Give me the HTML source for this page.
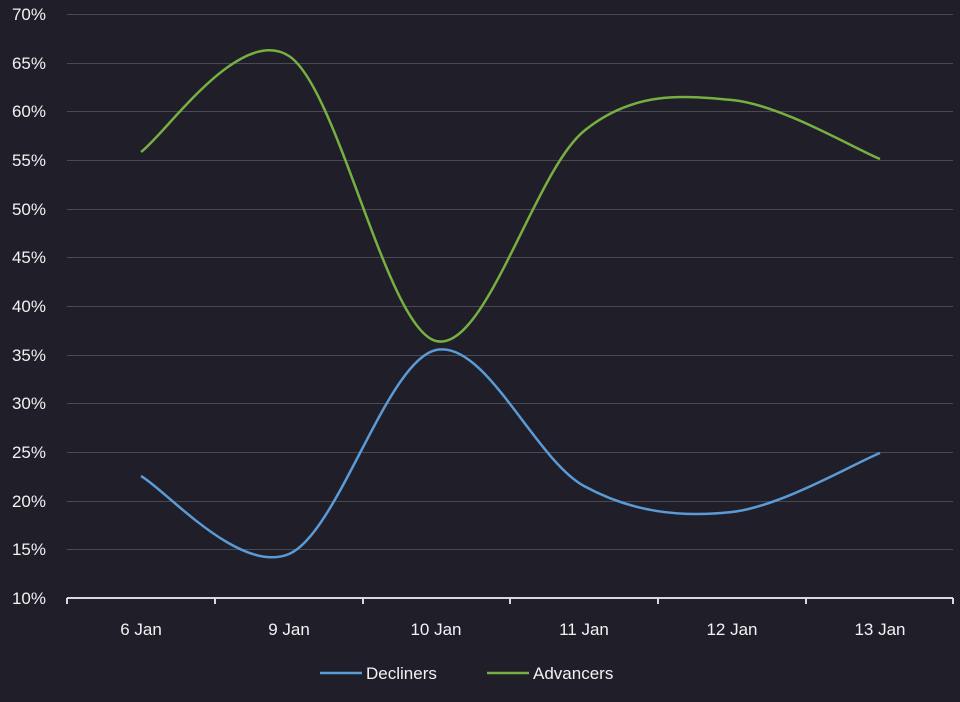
<!DOCTYPE html>
<html><head><meta charset="utf-8"><style>
html,body{margin:0;padding:0;background:#1f1e29;}
svg{display:block;}
text{font-family:"Liberation Sans",sans-serif;fill:#f2f2f2;font-size:17px;}
</style></head><body>
<svg width="960" height="702" viewBox="0 0 960 702">
<rect width="960" height="702" fill="#1f1e29"/>
<g stroke="#4a4a52" stroke-width="1">
<line x1="67" x2="953" y1="14.5" y2="14.5"/><line x1="67" x2="953" y1="63.5" y2="63.5"/>
<line x1="67" x2="953" y1="111.5" y2="111.5"/><line x1="67" x2="953" y1="160.5" y2="160.5"/>
<line x1="67" x2="953" y1="209.5" y2="209.5"/><line x1="67" x2="953" y1="257.5" y2="257.5"/>
<line x1="67" x2="953" y1="306.5" y2="306.5"/><line x1="67" x2="953" y1="355.5" y2="355.5"/>
<line x1="67" x2="953" y1="403.5" y2="403.5"/><line x1="67" x2="953" y1="452.5" y2="452.5"/>
<line x1="67" x2="953" y1="501.5" y2="501.5"/><line x1="67" x2="953" y1="549.5" y2="549.5"/>
</g>
<g stroke="#d9d9d9" stroke-width="2">
<line x1="67" x2="953" y1="598" y2="598"/>
<line x1="67" x2="67" y1="598" y2="604"/><line x1="215" x2="215" y1="598" y2="604"/>
<line x1="363" x2="363" y1="598" y2="604"/><line x1="510" x2="510" y1="598" y2="604"/>
<line x1="658" x2="658" y1="598" y2="604"/><line x1="806" x2="806" y1="598" y2="604"/>
<line x1="953" x2="953" y1="598" y2="604"/>
</g>
<g text-anchor="end">
<text x="46" y="20">70%</text><text x="46" y="69">65%</text><text x="46" y="117">60%</text>
<text x="46" y="166">55%</text><text x="46" y="215">50%</text><text x="46" y="263">45%</text>
<text x="46" y="312">40%</text><text x="46" y="361">35%</text><text x="46" y="409">30%</text>
<text x="46" y="458">25%</text><text x="46" y="507">20%</text><text x="46" y="555">15%</text>
<text x="46" y="604">10%</text>
</g>
<g text-anchor="middle">
<text x="141" y="635">6 Jan</text><text x="289" y="635">9 Jan</text><text x="436" y="635">10 Jan</text>
<text x="584" y="635">11 Jan</text><text x="732" y="635">12 Jan</text><text x="880" y="635">13 Jan</text>
</g>
<path fill="none" stroke="#76b041" stroke-width="2.5" d="M141,152 C165.7,134 239.8,24 289,56 C338.2,88 386.8,328.8 436,341 C485.2,353.2 534.7,171.2 584,131 C633.3,90.8 682.7,95.3 732,100 C781.3,104.7 855.3,149.2 880,159"/>
<path fill="none" stroke="#5b9bd5" stroke-width="2.5" d="M141,476 C165.7,490 239.8,575 289,554 C338.2,533 386.8,360.7 436,350 C485.2,339.3 534.7,459 584,486 C633.3,513 682.7,517.5 732,512 C781.3,506.5 855.3,462.8 880,453"/>
<line x1="320" x2="362" y1="673" y2="673" stroke="#5b9bd5" stroke-width="2.5"/>
<text x="366" y="679">Decliners</text>
<line x1="487" x2="529" y1="673" y2="673" stroke="#76b041" stroke-width="2.5"/>
<text x="533" y="679">Advancers</text>
</svg>
</body></html>
